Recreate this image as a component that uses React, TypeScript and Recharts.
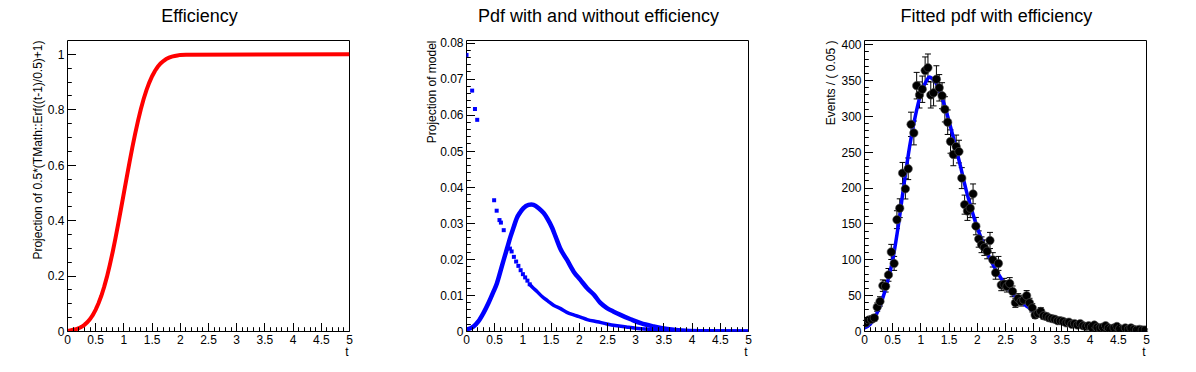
import { ComposedChart, Line, Scatter, XAxis, YAxis, ErrorBar, Label, ReferenceArea } from 'recharts';

const FONT = '"Liberation Sans", Arial, Helvetica, sans-serif';

// shared x axis (t from 0 to 5)
const xTicks = [0, 0.1, 0.2, 0.3, 0.4, 0.5, 0.6, 0.7, 0.8, 0.9, 1, 1.1, 1.2, 1.3, 1.4, 1.5, 1.6, 1.7, 1.8, 1.9, 2, 2.1, 2.2, 2.3, 2.4, 2.5, 2.6, 2.7, 2.8, 2.9, 3, 3.1, 3.2, 3.3, 3.4, 3.5, 3.6, 3.7, 3.8, 3.9, 4, 4.1, 4.2, 4.3, 4.4, 4.5, 4.6, 4.7, 4.8, 4.9, 5];
const xMajor = [0, 0.5, 1, 1.5, 2, 2.5, 3, 3.5, 4, 4.5, 5];

// panel 1: efficiency
const effTicks = [0, 0.05, 0.1, 0.15, 0.2, 0.25, 0.3, 0.35, 0.4, 0.45, 0.5, 0.55, 0.6, 0.65, 0.7, 0.75, 0.8, 0.85, 0.9, 0.95, 1];
const effMajor = [0, 0.2, 0.4, 0.6, 0.8, 1];
const effT = [0, 0.05, 0.1, 0.15, 0.2, 0.25, 0.3, 0.35, 0.4, 0.45, 0.5, 0.55, 0.6, 0.65, 0.7, 0.75, 0.8, 0.85, 0.9, 0.95, 1.0, 1.05, 1.1, 1.15, 1.2, 1.25, 1.3, 1.35, 1.4, 1.45, 1.5, 1.55, 1.6, 1.65, 1.7, 1.75, 1.8, 1.85, 1.9, 1.95, 2.0, 2.1, 5];
const effV = [0.002, 0.004, 0.006, 0.008, 0.012, 0.017, 0.024, 0.033, 0.045, 0.06, 0.079, 0.102, 0.129, 0.161, 0.198, 0.24, 0.286, 0.336, 0.389, 0.444, 0.5, 0.556, 0.611, 0.664, 0.714, 0.76, 0.802, 0.839, 0.871, 0.898, 0.921, 0.94, 0.955, 0.967, 0.976, 0.983, 0.988, 0.992, 0.994, 0.996, 0.998, 0.999, 1.0];

// panel 2: pdf with / without efficiency
const pdfTicks = [0, 0.002, 0.004, 0.006, 0.008, 0.01, 0.012, 0.014, 0.016, 0.018, 0.02, 0.022, 0.024, 0.026, 0.028, 0.03, 0.032, 0.034, 0.036, 0.038, 0.04, 0.042, 0.044, 0.046, 0.048, 0.05, 0.052, 0.054, 0.056, 0.058, 0.06, 0.062, 0.064, 0.066, 0.068, 0.07, 0.072, 0.074, 0.076, 0.078, 0.08];
const pdfMajor = [0, 0.01, 0.02, 0.03, 0.04, 0.05, 0.06, 0.07, 0.08];
const rawDotT = [0, 0.1, 0.15, 0.19, 0.49, 0.535, 0.585, 0.61, 0.66, 0.77, 0.8, 0.84, 0.88, 0.92, 0.96, 1.0, 1.04, 1.08, 1.12];
const rawDotV = [0.0767, 0.0668, 0.0617, 0.0587, 0.0364, 0.0335, 0.0309, 0.0302, 0.0281, 0.023, 0.0222, 0.0207, 0.0194, 0.0182, 0.017, 0.0159, 0.015, 0.0141, 0.0131];
const rawTailT = [1.12, 1.16, 1.25, 1.34, 1.44, 1.55, 1.66, 1.78, 1.9, 2.02, 2.14, 2.32, 2.49, 2.67, 2.85, 3.0, 3.25, 3.5, 4.0, 4.5, 5.0];
const rawTailV = [0.0131, 0.0124, 0.0111, 0.0097, 0.0085, 0.0072, 0.0064, 0.0053, 0.0046, 0.004, 0.0033, 0.0027, 0.0021, 0.0016, 0.0012, 0.0009, 0.0006, 0.0004, 0.0002, 0.0001, 0.0001];
const effPdfT = [0, 0.125, 0.21, 0.3, 0.39, 0.48, 0.54, 0.6, 0.66, 0.72, 0.78, 0.84, 0.89, 0.95, 1.01, 1.1, 1.15, 1.19, 1.28, 1.37, 1.43, 1.52, 1.58, 1.66, 1.78, 1.9, 2.02, 2.14, 2.26, 2.37, 2.49, 2.61, 2.73, 2.91, 3.09, 3.32, 3.56, 3.8, 4.15, 5];
const effPdfV = [0.0005, 0.0014, 0.0028, 0.0051, 0.0079, 0.0111, 0.0134, 0.0166, 0.0199, 0.0231, 0.0263, 0.0291, 0.0314, 0.033, 0.0342, 0.0351, 0.0352, 0.0351, 0.0342, 0.0328, 0.0314, 0.0287, 0.0263, 0.0231, 0.0199, 0.0166, 0.0143, 0.012, 0.0102, 0.008, 0.0065, 0.0055, 0.0046, 0.0034, 0.0023, 0.0014, 0.0007, 0.0003, 0.0001, 0];

// panel 3: fitted pdf, 100 bins of 0.05
const evTicks = [0, 10, 20, 30, 40, 50, 60, 70, 80, 90, 100, 110, 120, 130, 140, 150, 160, 170, 180, 190, 200, 210, 220, 230, 240, 250, 260, 270, 280, 290, 300, 310, 320, 330, 340, 350, 360, 370, 380, 390, 400];
const evMajor = [0, 50, 100, 150, 200, 250, 300, 350, 400];
const binWidth = 0.05;
const counts = [
  12, 16, 17, 19, 34, 42, 64, 63, 79, 111,
  95, 156, 172, 221, 199, 227, 289, 277, 343, 330,
  338, 364, 368, 330, 333, 352, 340, 329, 310, 292,
  265, 247, 258, 251, 214, 177, 168, 172, 192, 147,
  129, 121, 117, 112, 127, 100, 82, 95, 65, 66,
  63, 67, 56, 40, 46, 42, 44, 50, 40, 33,
  23, 25, 28, 22, 21, 19, 18, 17, 15, 15,
  14, 12, 13, 10, 11, 9, 11, 8, 7, 8,
  6, 9, 6, 5, 6, 8, 5, 4, 5, 7,
  4, 3, 5, 3, 5, 3, 2, 3, 2, 2,
];
const fitT = [0, 0.1, 0.2, 0.3, 0.4, 0.5, 0.6, 0.7, 0.8, 0.9, 1.0, 1.1, 1.15, 1.2, 1.3, 1.4, 1.5, 1.6, 1.7, 1.8, 1.9, 2.0, 2.1, 2.2, 2.3, 2.4, 2.5, 2.6, 2.7, 2.8, 2.9, 3.0, 3.2, 3.4, 3.6, 3.8, 4.0, 4.3, 4.6, 5.0];
const fitV = [5, 10, 22, 41, 67, 100, 148, 205, 258, 300, 332, 350, 355, 353, 342, 320, 293, 263, 231, 198, 170, 145, 124, 106, 90, 77, 65, 55, 47, 40, 34, 28, 20.5, 15, 11.3, 8.6, 6.6, 4.8, 3.4, 2.3];

const pts = (ts: number[], vs: number[]) => ts.map((t, i) => ({ t, y: vs[i] }));
const effData = pts(effT, effV);
const dotData = pts(rawDotT, rawDotV);
const tailData = pts(rawTailT, rawTailV);
const effPdfData = pts(effPdfT, effPdfV);
const fitData = pts(fitT, fitV);
const histData = counts.map((n, i) => ({ t: binWidth * (i + 0.5), y: n, e: Math.sqrt(n) }));

const isIn = (v: number, list: number[]) => list.some((m) => Math.abs(m - v) < 1e-9);
const crisp = (v: number) => Math.round(v - 0.5) + 0.5;

const xTick = (p: any) => {
  const v = p.payload.value;
  const major = isIn(v, xMajor);
  const x = crisp(p.x);
  return (
    <g>
      <line x1={x} x2={x} y1={p.y} y2={p.y - (major ? 8.5 : 4.3)} stroke="#000" strokeWidth={1} />
      {major && (
        <text x={p.x} y={p.y + 12.5} textAnchor="middle" fontSize={12} fontFamily={FONT} fill="#000">
          {String(v)}
        </text>
      )}
    </g>
  );
};

const makeYTick = (majors: number[]) => (p: any) => {
  const v = p.payload.value;
  const major = isIn(v, majors);
  const y = crisp(p.y);
  return (
    <g>
      <line x1={p.x} x2={p.x + (major ? 8.5 : 4.3)} y1={y} y2={y} stroke="#000" strokeWidth={1} />
      {major && (
        <text x={p.x - 3} y={p.y + 4.3} textAnchor="end" fontSize={12} fontFamily={FONT} fill="#000">
          {String(v)}
        </text>
      )}
    </g>
  );
};

const xTitle = (p: any) => {
  const vb = p.viewBox;
  return (
    <text x={vb.x + vb.width - 1} y={356} textAnchor="end" fontSize={12} fontFamily={FONT} fill="#000">
      t
    </text>
  );
};

const square = (p: any) => <rect x={p.cx - 2} y={p.cy - 2} width={4} height={4} fill="#0000ff" />;
const blob = (p: any) => <circle cx={p.cx} cy={p.cy} r={4.2} fill="#000" stroke="#555" strokeWidth={0.6} />;

interface PanelProps {
  left: number;
  title: string;
  yTitle: string;
  yTitleX: number;
  yMax: number;
  yTicks: number[];
  yMajor: number[];
  children: any;
}

function Panel({ left, title, yTitle, yTitleX, yMax, yTicks, yMajor, children }: PanelProps) {
  const yLabel = (p: any) => {
    const top = p.viewBox ? p.viewBox.y : 40.5;
    return (
      <text
        x={yTitleX}
        y={top}
        transform={`rotate(-90, ${yTitleX}, ${top})`}
        textAnchor="end"
        fontSize={12}
        fontFamily={FONT}
        fill="#000"
      >
        {yTitle}
      </text>
    );
  };
  return (
    <div style={{ position: 'absolute', left, top: 0, width: 399, height: 372 }}>
      <div
        style={{
          position: 'absolute',
          left: 0,
          top: 5,
          width: 399,
          textAlign: 'center',
          fontSize: 18,
          lineHeight: '22px',
          fontFamily: FONT,
          color: '#000',
        }}
      >
        {title}
      </div>
      <ComposedChart width={399} height={372} margin={{ top: 40.5, right: 49.5, bottom: 10.5, left: 7.5 }}>
        <XAxis
          type="number"
          dataKey="t"
          domain={[0, 5]}
          ticks={xTicks}
          interval={0}
          tick={xTick}
          tickLine={false}
          axisLine={false}
          tickSize={0}
          tickMargin={0}
          height={30}
          allowDataOverflow
        >
          <Label content={xTitle} />
        </XAxis>
        <YAxis
          type="number"
          dataKey="y"
          domain={[0, yMax]}
          ticks={yTicks}
          interval={0}
          tick={makeYTick(yMajor)}
          tickLine={false}
          axisLine={false}
          tickSize={0}
          tickMargin={0}
          width={60}
          allowDataOverflow
        >
          <Label content={yLabel} />
        </YAxis>
        <ReferenceArea x1={0} x2={5} y1={0} y2={yMax} fill="none" stroke="#000" strokeWidth={1} />
        {children}
      </ComposedChart>
    </div>
  );
}

export default function App() {
  return (
    <div style={{ position: 'absolute', left: 0, top: 0, width: 1196, height: 372, background: '#fff' }}>
      <Panel
        left={0}
        title="Efficiency"
        yTitle="Projection of 0.5*(TMath::Erf((t-1)/0.5)+1)"
        yTitleX={41.7}
        yMax={1.05}
        yTicks={effTicks}
        yMajor={effMajor}
      >
        <Line data={effData} dataKey="y" type="linear" stroke="#ff0000" strokeWidth={4} dot={false} activeDot={false} isAnimationActive={false} />
      </Panel>
      <Panel
        left={399}
        title="Pdf with and without efficiency"
        yTitle="Projection of model"
        yTitleX={36.7}
        yMax={0.0807}
        yTicks={pdfTicks}
        yMajor={pdfMajor}
      >
        <Line data={effPdfData} dataKey="y" type="monotone" stroke="#0000ff" strokeWidth={4.5} dot={false} activeDot={false} isAnimationActive={false} />
        <Line data={tailData} dataKey="y" type="monotone" stroke="#0000ff" strokeWidth={3.5} dot={false} activeDot={false} isAnimationActive={false} />
        <Scatter data={dotData} dataKey="y" shape={square} isAnimationActive={false} />
      </Panel>
      <Panel
        left={797}
        title="Fitted pdf with efficiency"
        yTitle="Events / ( 0.05 )"
        yTitleX={37.5}
        yMax={406}
        yTicks={evTicks}
        yMajor={evMajor}
      >
        <Scatter data={histData} dataKey="y" shape={blob} isAnimationActive={false}>
          <ErrorBar dataKey="e" direction="y" width={3} stroke="#000" strokeWidth={1} isAnimationActive={false} />
        </Scatter>
        <Line data={fitData} dataKey="y" type="monotone" stroke="#0000ff" strokeWidth={3.5} dot={false} activeDot={false} isAnimationActive={false} />
      </Panel>
    </div>
  );
}
